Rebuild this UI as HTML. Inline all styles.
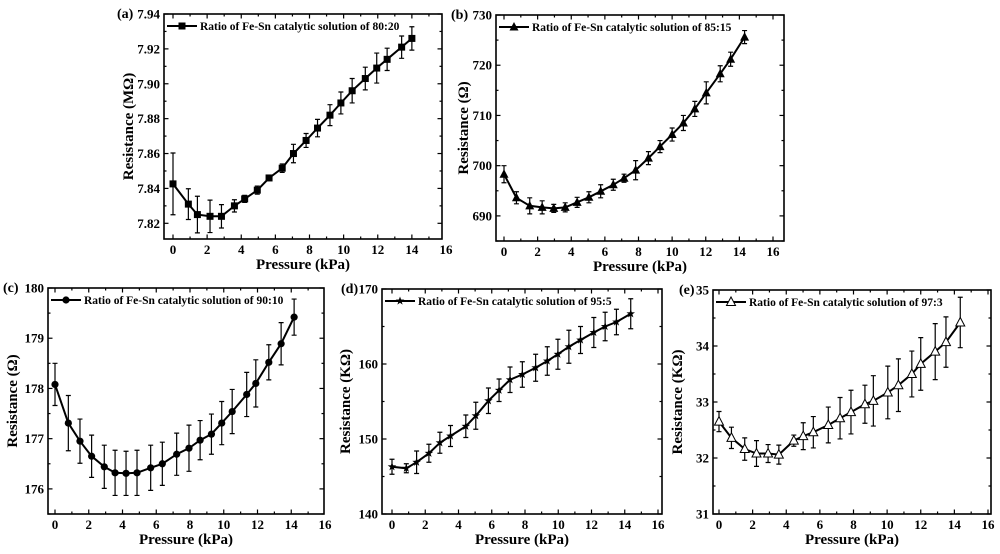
<!DOCTYPE html>
<html><head><meta charset="utf-8"><style>
html,body{margin:0;padding:0;background:#fff;}
svg{display:block;font-family:"Liberation Serif",serif;font-weight:bold;}
</style></head><body>
<svg id="fig" width="1000" height="554" viewBox="0 0 1000 554" xmlns="http://www.w3.org/2000/svg"></svg>
<script>
// ---- data ----
const xA=[0,0.9,1.43,2.17,2.84,3.6,4.2,4.94,5.63,6.4,7.06,7.8,8.47,9.2,9.84,10.5,11.27,11.94,12.55,13.4,14.0];
const yA=[7.8426,7.831,7.825,7.824,7.824,7.830,7.834,7.839,7.846,7.8516,7.860,7.8675,7.8746,7.882,7.889,7.896,7.903,7.909,7.914,7.921,7.926];
const eA=[0.0177,0.0088,0.0105,0.0093,0.0067,0.0035,0.002,0.0023,0.001,0.0024,0.0053,0.004,0.005,0.006,0.0063,0.007,0.0065,0.0086,0.0064,0.0064,0.0067];
const xB=[0,0.74,1.53,2.27,2.96,3.64,4.35,5.05,5.75,6.5,7.14,7.83,8.59,9.28,10.0,10.67,11.35,12.03,12.86,13.48,14.31];
const yB=[698.3,693.6,692,691.7,691.5,691.7,692.7,693.7,694.9,696.2,697.5,699.1,701.5,703.8,706.2,708.5,711.3,714.5,718.3,721.2,725.6];
const eB=[1.7,1.2,1.6,1.3,0.8,0.9,1,1.1,1.3,1.1,0.8,1.9,1.3,1.2,1.3,1.5,1.5,2.2,1.6,1.4,1.3];
const xC=[0,0.79,1.48,2.17,2.92,3.56,4.21,4.86,5.67,6.36,7.21,7.94,8.6,9.27,9.88,10.5,11.36,11.9,12.67,13.4,14.17];
const yC=[178.08,177.31,176.95,176.65,176.44,176.32,176.31,176.32,176.42,176.5,176.69,176.81,176.97,177.09,177.31,177.54,177.88,178.1,178.52,178.89,179.42];
const eC=[0.42,0.55,0.44,0.42,0.43,0.45,0.44,0.45,0.45,0.43,0.42,0.46,0.39,0.4,0.43,0.44,0.44,0.47,0.35,0.42,0.36];
const xD=[0,0.86,1.48,2.22,2.88,3.52,4.44,5.04,5.8,6.44,7.1,7.84,8.64,9.34,9.98,10.64,11.34,12.14,12.82,13.5,14.36];
const yD=[146.3,146.1,146.9,148.1,149.5,150.4,151.7,153.1,155.1,156.5,157.9,158.6,159.5,160.4,161.3,162.3,163.2,164.2,165.0,165.6,166.7];
const eD=[1.0,0.6,1.5,1.2,1.4,1.4,1.5,1.8,1.7,1.5,1.7,1.7,1.8,1.9,2.0,2.2,1.8,2.0,1.9,1.7,2.0];
const xE=[0,0.74,1.53,2.23,2.92,3.56,4.45,5.01,5.61,6.5,7.2,7.85,8.68,9.18,10.04,10.67,11.47,12.0,12.86,13.5,14.35];
const yE=[32.65,32.36,32.16,32.08,32.08,32.06,32.31,32.39,32.46,32.59,32.71,32.82,32.96,33.02,33.17,33.3,33.5,33.68,33.9,34.07,34.42];
const eE=[0.18,0.19,0.2,0.23,0.16,0.17,0.1,0.24,0.28,0.32,0.37,0.39,0.34,0.45,0.47,0.47,0.41,0.47,0.5,0.45,0.45];
const xTicks=[0,2,4,6,8,10,12,14,16];
const ticksA=[7.82,7.84,7.86,7.88,7.90,7.92,7.94];
const ticksB=[690,700,710,720,730];
const ticksC=[176,177,178,179,180];
const ticksD=[140,150,160,170];
const ticksE=[31,32,33,34,35];
const labelsA=["7.82","7.84","7.86","7.88","7.90","7.92","7.94"];

const NS="http://www.w3.org/2000/svg";
const svg=document.getElementById('fig');
function mk(tag,attrs,parent){const e=document.createElementNS(NS,tag);for(const k in attrs)e.setAttribute(k,attrs[k]);(parent||svg).appendChild(e);return e;}

function marker(g,type,cx,cy){
  let m;
  if(type==='square'){m=mk('rect',{x:cx-3.5,y:cy-3.5,width:7,height:7,fill:'#000'},g);}
  else if(type==='tri'||type==='otri'){m=mk('polygon',{points:`${cx},${cy-5} ${cx-4.5},${cy+3.5} ${cx+4.5},${cy+3.5}`,fill:type==='tri'?'#000':'#fff',stroke:'#000','stroke-width':type==='tri'?0:1},g);}
  else if(type==='circle'){m=mk('circle',{cx:cx,cy:cy,r:3.6,fill:'#000'},g);}
  else {let p=[];for(let i=0;i<10;i++){const r=i%2?1.8:4.5;const a=-Math.PI/2+i*Math.PI/5;p.push((cx+r*Math.cos(a)).toFixed(1)+','+(cy+r*Math.sin(a)).toFixed(1));}
    m=mk('polygon',{points:p.join(' '),fill:'#000'},g);}
  
  
}

function panel(cfg){
  const g=mk('g',{});
  
  
  const {L,T,R,B,x0px,x16px,ymin,ymax}=cfg;
  const sx=v=>x0px+(x16px-x0px)*v/16;
  const sy=v=>B-(v-ymin)/(ymax-ymin)*(B-T);
  const box=mk('rect',{x:L,y:T,width:R-L,height:B-T,fill:'none',stroke:'#000','stroke-width':1.6},g);
  
  for(let v=0;v<=16;v++){const X=sx(v);if(X>R)continue;const len=v%2?2.5:4.5;
    mk('line',{x1:X,y1:B,x2:X,y2:B-len,stroke:'#000','stroke-width':1.2},g);
    mk('line',{x1:X,y1:T,x2:X,y2:T+len,stroke:'#000','stroke-width':1.2},g);}
  xTicks.forEach(v=>{const t=mk('text',{x:sx(v),y:B+15,'text-anchor':'middle','font-size':13},g);t.textContent=v;
    });
  const tk=cfg.ticks;const step=tk[1]-tk[0];
  for(let v=tk[0]-step;v<=ymax+1e-9;v+=step/2){if(v<ymin-1e-9)continue;const Y=sy(v);const major=Math.abs(((v-tk[0])/step)-Math.round((v-tk[0])/step))<1e-6;const len=major?4.5:2.5;
    mk('line',{x1:L,y1:Y,x2:L+len,y2:Y,stroke:'#000','stroke-width':1.2},g);
    mk('line',{x1:R,y1:Y,x2:R-len,y2:Y,stroke:'#000','stroke-width':1.2},g);}
  tk.forEach((v,i)=>{const t=mk('text',{x:L-4,y:sy(v)+4.5,'text-anchor':'end','font-size':13},g);t.textContent=cfg.labels?cfg.labels[i]:v;
    });
  const pl=mk('text',{x:cfg.tagX,y:T+4,'font-size':14},g);pl.textContent=cfg.tag;
  
  const yt=mk('text',{x:0,y:0,'text-anchor':'middle','font-size':15,transform:`translate(${cfg.ytX},${(T+B)/2}) rotate(-90)`},g);yt.textContent=cfg.ytitle;
  
  const xt=mk('text',{x:(L+R)/2,y:B+30,'text-anchor':'middle','font-size':15},g);xt.textContent='Pressure (kPa)';
  
  const xs=cfg.xs,ys=cfg.ys,es=cfg.es;
  const line=mk('polyline',{points:xs.map((x,i)=>sx(x).toFixed(1)+','+sy(ys[i]).toFixed(1)).join(' '),fill:'none',stroke:'#000','stroke-width':2},g);
  
  xs.forEach((x,i)=>{const X=sx(x),y1=sy(ys[i]+es[i]),y2=sy(ys[i]-es[i]);
    const eb=mk('path',{d:`M${X},${y1}V${y2}M${X-2.5},${y1}H${X+2.5}M${X-2.5},${y2}H${X+2.5}`,stroke:'#000','stroke-width':1.2,fill:'none'},g);
    });
  xs.forEach((x,i)=>marker(g,cfg.mk,sx(x),sy(ys[i])));
  const lg=mk('g',{},g);
  const ly=T+12;mk('line',{x1:L+3,y1:ly,x2:L+33,y2:ly,stroke:'#000','stroke-width':2},lg);marker(lg,cfg.mk,L+18,ly);
  const lt=mk('text',{x:L+36,y:ly+4,'font-size':11.5},lg);lt.textContent=cfg.legend;
}

panel({id:'a',L:164,T:14,R:442,B:239,x0px:173,x16px:446,ymin:7.811,ymax:7.94,ticks:ticksA,labels:labelsA,xs:xA,ys:yA,es:eA,mk:'square',tag:'(a)',tagX:117,ytX:133,ytitle:'Resistance (MΩ)',legend:'Ratio of Fe-Sn catalytic solution of 80:20'});
panel({id:'b',L:496,T:15,R:784,B:241,x0px:504,x16px:773,ymin:685,ymax:730,ticks:ticksB,xs:xB,ys:yB,es:eB,mk:'tri',tag:'(b)',tagX:451,ytX:468,ytitle:'Resistance (Ω)',legend:'Ratio of Fe-Sn catalytic solution of 85:15'});
panel({id:'c',L:48,T:288,R:324,B:514,x0px:55,x16px:325,ymin:175.5,ymax:180,ticks:ticksC,xs:xC,ys:yC,es:eC,mk:'circle',tag:'(c)',tagX:3,ytX:17,ytitle:'Resistance (Ω)',legend:'Ratio of Fe-Sn catalytic solution of 90:10'});
panel({id:'d',L:382,T:289,R:662,B:514,x0px:392,x16px:658,ymin:140,ymax:170,ticks:ticksD,xs:xD,ys:yD,es:eD,mk:'star',tag:'(d)',tagX:341,ytX:350,ytitle:'Resistance (KΩ)',legend:'Ratio of Fe-Sn catalytic solution of 95:5'});
panel({id:'e',L:713,T:290,R:991,B:514,x0px:719,x16px:988,ymin:31,ymax:35,ticks:ticksE,xs:xE,ys:yE,es:eE,mk:'otri',tag:'(e)',tagX:679,ytX:682,ytitle:'Resistance (KΩ)',legend:'Ratio of Fe-Sn catalytic solution of 97:3'});
</script>
</body></html>
